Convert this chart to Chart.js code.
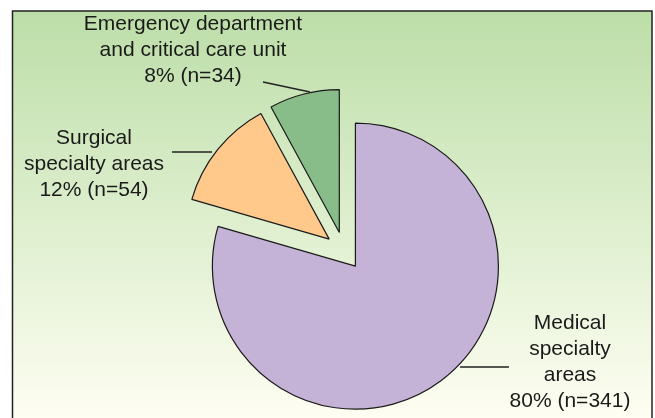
<!DOCTYPE html>
<html lang="en">
<head>
    <meta charset="UTF-8">
    <title>Patients by area</title>
    <script src="https://cdn.jsdelivr.net/npm/chart.js"></script>
    <style>
        body {
            margin: 0;
            background-color: #fff;
        }
        #wrap {
            width: 655px;
            height: 418px;
        }
    </style>
</head>
<body>
    <div id="wrap">
        <canvas id="areaChart" width="655" height="418"></canvas>
    </div>

    <script>
        // data
        const categories = ['Medical specialty areas', 'Surgical specialty areas', 'Emergency department and critical care unit'];
        const counts = [341, 54, 34];
        const percents = [80, 12, 8];
        const labelLines = [
            ['Medical', 'specialty', 'areas'],
            ['Surgical', 'specialty areas'],
            ['Emergency department', 'and critical care unit']
        ];

        const colors = ['#c5b3d7', '#ffc98b', '#88bd89'];
        const explode = 19;

        // where each label block sits and its leader line
        const labelPos = [
            { x: 570, y: 323, line: [[460, 367], [509, 367]] },
            { x: 94, y: 138, line: [[172, 152], [212, 152]] },
            { x: 193, y: 24, line: [[263, 82], [310, 92]] }
        ];

        const backgroundPlugin = {
            id: 'panel',
            beforeDraw(chart) {
                const ctx = chart.ctx;
                const grad = ctx.createLinearGradient(0, 11, 0, 418);
                grad.addColorStop(0, '#bcdea8');
                grad.addColorStop(1, '#fefef2');
                ctx.save();
                ctx.fillStyle = grad;
                ctx.fillRect(12, 11, 640, 410);
                ctx.strokeStyle = '#222';
                ctx.lineWidth = 1.5;
                ctx.strokeRect(12.5, 11, 639.5, 420);
                ctx.restore();
            }
        };

        // push every slice out along its middle angle
        const explodePlugin = {
            id: 'explode',
            afterDatasetUpdate(chart, args) {
                args.meta.data.forEach(arc => {
                    const mid = (arc.startAngle + arc.endAngle) / 2;
                    arc.x += Math.cos(mid) * explode;
                    arc.y += Math.sin(mid) * explode;
                });
            }
        };

        const labelPlugin = {
            id: 'sliceLabels',
            afterDraw(chart) {
                const ctx = chart.ctx;
                ctx.save();
                ctx.font = '21px "Liberation Sans", Arial, sans-serif';
                ctx.fillStyle = '#1a1a1a';
                ctx.textAlign = 'center';
                ctx.textBaseline = 'middle';
                labelPos.forEach((p, i) => {
                    const lines = labelLines[i].concat([percents[i] + '% (n=' + counts[i] + ')']);
                    lines.forEach((t, j) => ctx.fillText(t, p.x, p.y + j * 26));
                    ctx.strokeStyle = '#222';
                    ctx.lineWidth = 1.3;
                    ctx.beginPath();
                    ctx.moveTo(p.line[0][0], p.line[0][1]);
                    ctx.lineTo(p.line[1][0], p.line[1][1]);
                    ctx.stroke();
                });
                ctx.restore();
            }
        };

        new Chart(document.getElementById('areaChart'), {
            type: 'pie',
            data: {
                labels: categories,
                datasets: [{
                    data: counts,
                    backgroundColor: colors,
                    borderColor: '#1a1a1a',
                    borderWidth: 1.2,
                    radius: 143
                }]
            },
            options: {
                responsive: false,
                animation: false,
                layout: {
                    padding: { left: 200, right: 167, top: 100, bottom: 16 }
                },
                plugins: {
                    legend: { display: false },
                    tooltip: { enabled: false }
                }
            },
            plugins: [backgroundPlugin, explodePlugin, labelPlugin]
        });
    </script>
</body>
</html>
